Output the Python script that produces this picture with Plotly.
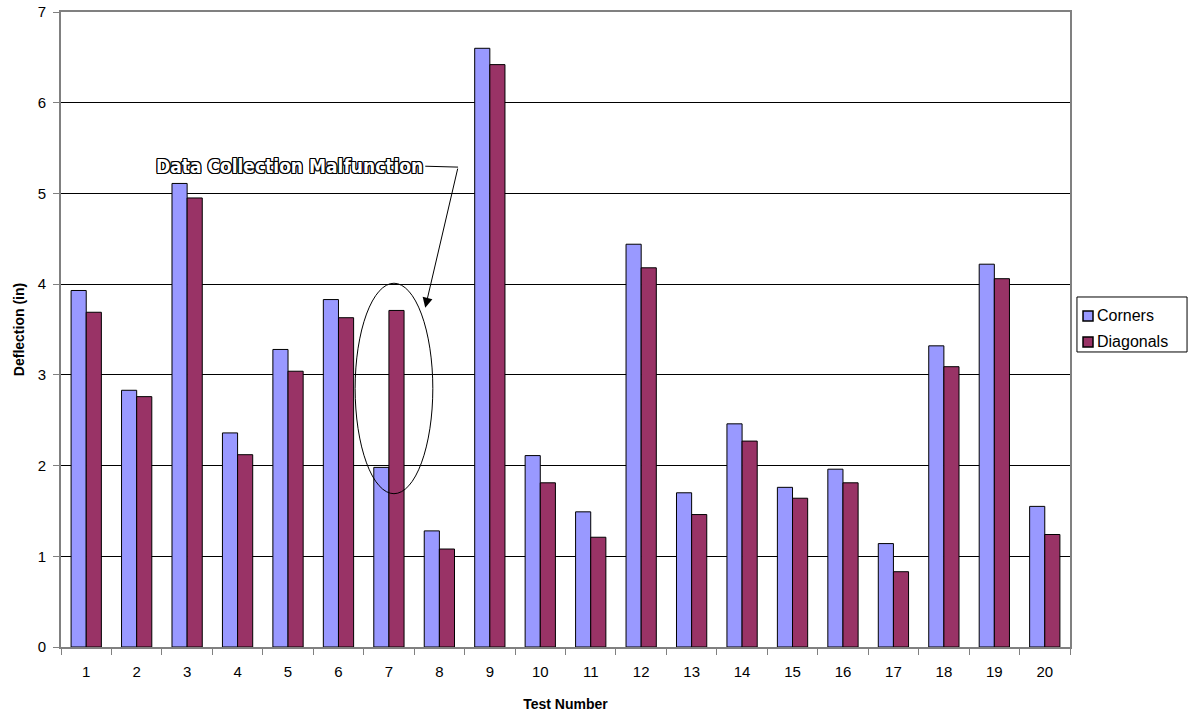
import plotly.graph_objects as go

tests = [str(i) for i in range(1, 21)]
corners = [3.93, 2.83, 5.11, 2.36, 3.28, 3.83, 1.98, 1.28, 6.60, 2.11,
           1.49, 4.44, 1.70, 2.46, 1.76, 1.96, 1.14, 3.32, 4.22, 1.55]
diagonals = [3.69, 2.76, 4.95, 2.12, 3.04, 3.63, 3.71, 1.08, 6.42, 1.81,
             1.21, 4.18, 1.46, 2.27, 1.64, 1.81, 0.83, 3.09, 4.06, 1.24]
series_names = ["Corners", "Diagonals"]
series_colors = ["#9999FF", "#993366"]

fig = go.Figure()
for name, vals, col in zip(series_names, [corners, diagonals], series_colors):
    fig.add_trace(go.Bar(x=tests, y=vals, name=name,
                         marker=dict(color=col, line=dict(color="black", width=1))))

font_main = "Liberation Sans, Arial, sans-serif"

fig.update_layout(
    width=1193, height=717,
    margin=dict(l=61, r=123, t=12, b=70),
    paper_bgcolor="white", plot_bgcolor="white",
    barmode="group", bargap=0.4, bargroupgap=0,
    font=dict(family=font_main, size=15, color="black"),
    showlegend=False,
    xaxis=dict(
        title=dict(text="<b>Test Number</b>", font=dict(size=14), standoff=20),
        type="category", tickson="boundaries", ticks="outside", ticklen=6,
        tickcolor="#808080", showline=True, linecolor="#808080", linewidth=2,
        mirror=True, tickfont=dict(size=15), showgrid=False, automargin=False,
        ticklabelstandoff=10,
    ),
    yaxis=dict(
        title=dict(text="<b>Deflection (in)</b>", font=dict(size=14), standoff=10),
        range=[0, 7], dtick=1, ticks="outside", ticklen=6, tickcolor="#808080",
        showline=True, linecolor="#808080", linewidth=2, mirror=True,
        showgrid=True, gridcolor="black", gridwidth=1, zeroline=False,
        tickfont=dict(size=15), automargin=False, ticklabeloverflow="allow",
        ticklabelstandoff=4,
    ),
)

# custom legend (box, swatches, labels)
fig.add_shape(type="rect", xref="paper", yref="paper", x0=1.0069, x1=1.1160,
              y0=0.4646, y1=0.5512, line=dict(color="black", width=1), fillcolor="white")
for i, (name, col) in enumerate(zip(series_names, series_colors)):
    yc = 0.5213 - i * 0.0409
    fig.add_shape(type="rect", xref="paper", yref="paper", x0=1.0129, x1=1.0228,
                  y0=yc - 0.0079, y1=yc + 0.0079, line=dict(color="black", width=1.5),
                  fillcolor=col)
    fig.add_annotation(xref="paper", yref="paper", x=1.0245, y=yc, xanchor="left",
                       yanchor="middle", text=name, showarrow=False,
                       font=dict(size=16, family=font_main))

# ellipse around test 7
fig.add_shape(type="circle", xref="x", yref="y", x0=5.33, x1=6.87, y0=1.69, y1=4.01,
              line=dict(color="black", width=1))
# leader line from text
fig.add_shape(type="line", xref="x", yref="y", x0=6.72, y0=5.30, x1=7.37, y1=5.29,
              line=dict(color="black", width=1))
# arrow
fig.add_annotation(x=6.72, y=3.74, ax=7.37, ay=5.29, xref="x", yref="y",
                   axref="x", ayref="y", text="", showarrow=True,
                   arrowhead=2, arrowsize=2, arrowwidth=1, arrowcolor="black")
# text with outline look
fig.add_annotation(x=6.72, y=5.30, xref="x", yref="y", xanchor="right", yanchor="middle",
                   text="<b>Data Collection Malfunction</b>", showarrow=False,
                   font=dict(family="DejaVu Sans Condensed, Liberation Sans Narrow, sans-serif",
                             size=19, color="white",
                             shadow="1px 1px 0 #000, -1px -1px 0 #000, 1px -1px 0 #000, -1px 1px 0 #000, 0 1px 0 #000, 0 -1px 0 #000, 1px 0 0 #000, -1px 0 0 #000"))

fig.write_html("out.html", config={"displayModeBar": False},
               post_script="document.body.style.margin='0';")
